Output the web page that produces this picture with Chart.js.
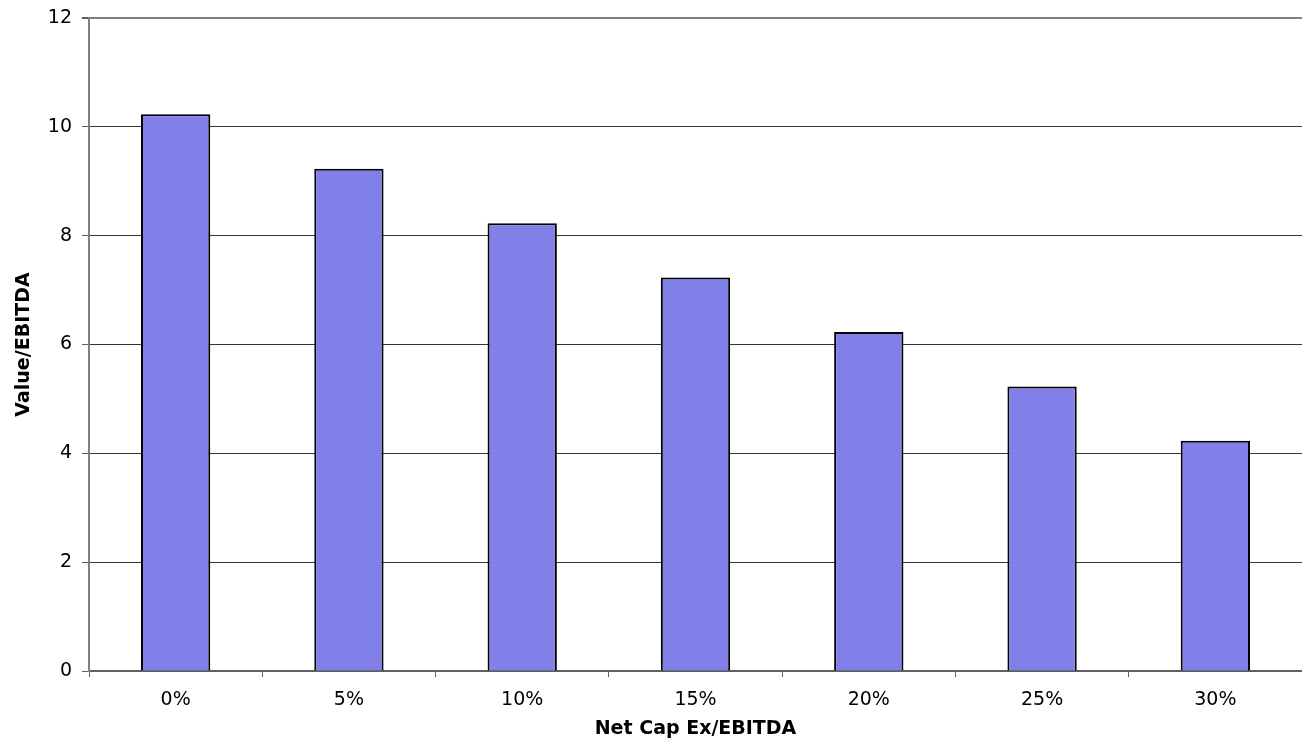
<!DOCTYPE html>
<html>
<head>
<meta charset="utf-8">
<script src="https://cdn.jsdelivr.net/npm/chart.js@4"></script>
<style>
    body { margin: 0; background: #ffffff; }
    #wrap { width: 1302px; height: 742px; }
</style>
</head>
<body>
<div id="wrap"><canvas id="myChart" width="1302" height="742"></canvas></div>
<script>
// ------------ Data ------------
const capExLabels = ['0%', '5%', '10%', '15%', '20%', '25%', '30%'];
const valueEbitda = [10.23, 9.23, 8.23, 7.23, 6.23, 5.23, 4.23];
const yTicks = [0, 2, 4, 6, 8, 10, 12];

const baseFont = '"DejaVu Sans", Verdana, sans-serif';

const ctx = document.getElementById('myChart').getContext('2d');

new Chart(ctx, {
    type: 'bar',
    data: {
        labels: capExLabels,
        datasets: [{
            label: 'Value/EBITDA',
            data: valueEbitda,
            backgroundColor: '#8080e8',
            borderColor: '#000000',
            borderWidth: 2,
            borderSkipped: 'bottom',
            categoryPercentage: 1.0,
            barPercentage: 0.4
        }]
    },
    options: {
        responsive: false,
        animation: false,
        layout: {
            padding: { top: 18, left: 0, right: 0, bottom: 0 }
        },
        plugins: {
            legend: { display: false },
            tooltip: { enabled: false }
        },
        scales: {
            x: {
                offset: true,
                border: { display: true, color: '#606060', width: 2 },
                grid: {
                    offset: true,
                    drawOnChartArea: false,
                    drawTicks: true,
                    tickLength: 6,
                    color: '#606060',
                    lineWidth: 1
                },
                ticks: {
                    color: '#000000',
                    padding: 12,
                    font: { family: baseFont, size: 19 }
                },
                title: {
                    display: true,
                    text: 'Net Cap Ex/EBITDA',
                    color: '#000000',
                    padding: { top: 0, bottom: 2 },
                    font: { family: baseFont, size: 19, weight: 'bold' }
                },
                afterFit: function (scale) {
                    scale.height = 71;
                }
            },
            y: {
                min: 0,
                max: 12,
                border: { display: true, color: '#808080', width: 2 },
                grid: {
                    color: function (c) {
                        return c.tick && c.tick.value === 12 ? '#808080' : '#333333';
                    },
                    lineWidth: function (c) {
                        return c.tick && c.tick.value === 12 ? 2 : 1;
                    },
                    tickColor: '#606060',
                    tickLength: 7,
                    drawTicks: true
                },
                afterBuildTicks: function (scale) {
                    scale.ticks = yTicks.map(v => ({ value: v }));
                },
                ticks: {
                    color: '#000000',
                    padding: 10,
                    font: { family: baseFont, size: 19 }
                },
                title: {
                    display: true,
                    text: 'Value/EBITDA',
                    color: '#000000',
                    padding: { top: 13, bottom: 0 },
                    font: { family: baseFont, size: 19, weight: 'bold' }
                },
                afterFit: function (scale) {
                    scale.width = 89;
                    scale.paddingTop = 0;
                    scale.paddingBottom = 0;
                }
            }
        }
    }
});
</script>
</body>
</html>
